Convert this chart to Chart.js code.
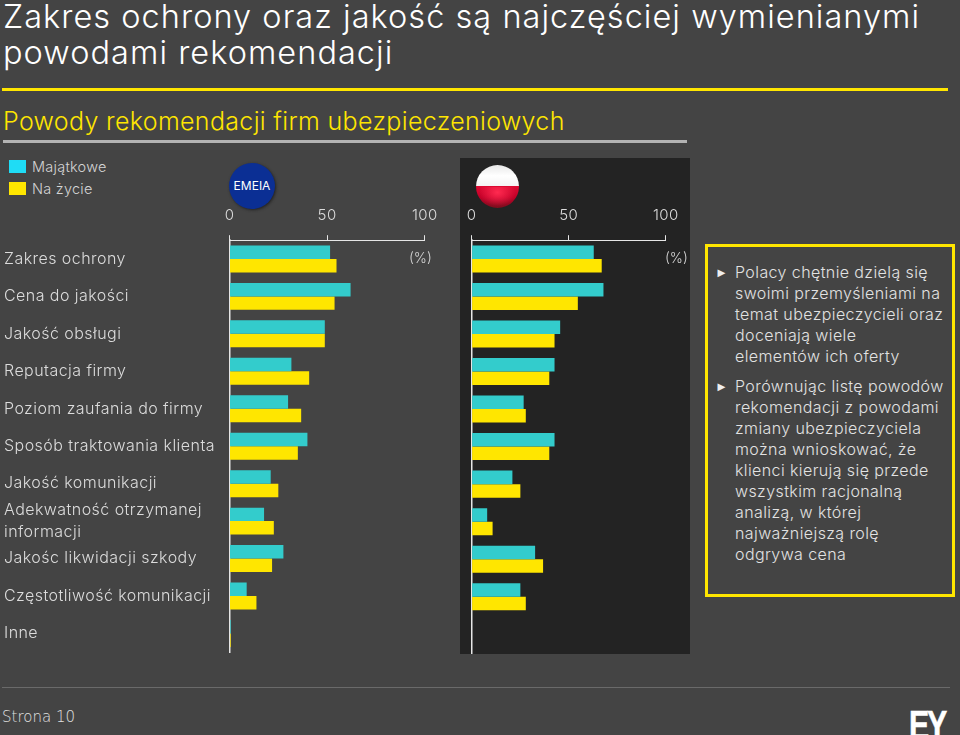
<!DOCTYPE html>
<html lang="pl">
<head>
<meta charset="utf-8">
<title>Powody rekomendacji</title>
<script src="https://cdn.jsdelivr.net/npm/chart.js@4"></script>
<style>
  html, body { margin: 0; padding: 0; }
  body { width: 960px; height: 735px; background: #444444; position: relative; overflow: hidden;
         font-family: Inter, sans-serif; font-weight: 300; color: #dcdcdc; }
  .abs { position: absolute; white-space: nowrap; }
  #title { left: 3px; top: -1px; font-size: 32.5px; line-height: 36px; color: #fff; letter-spacing: 1.03px; }
  #rule1 { left: 2px; top: 88px; width: 946px; height: 3px; background: #ffe600; }
  #subtitle { left: 3px; top: 105px; font-size: 25px; line-height: 32px; color: #ffe600; letter-spacing: 0.33px; }
  #rule2 { left: 3px; top: 140px; width: 684px; height: 3px; background: #b4b4b4; }
  #panel { left: 460px; top: 158px; width: 230px; height: 496px; background: #232323; }
  canvas { position: absolute; }
  .swatch { position: absolute; left: 9px; width: 17px; height: 13px; }
  .legend { font-size: 14.5px; line-height: 20px; left: 32px; letter-spacing: 0.25px; color: #d4d4d4; }
  #emeia { left: 229px; top: 163px; width: 46px; height: 46px; border-radius: 50%; background: #0b2f94;
           color: #fff; font-size: 12px; font-weight: 400; line-height: 46px; text-align: center; box-shadow: 1px 1px 3px #222; }
  #flag { left: 476px; top: 165px; width: 43px; height: 43px; border-radius: 50%;
          background: radial-gradient(ellipse at 50% 25%, #ff2a50 0, rgba(255,42,80,0) 60%) bottom / 100% 50% no-repeat,
                      linear-gradient(#e8e8e8 0, #fff 25%, #f4f4f4 49%, #dc0a32 50%, #c20028 75%, #7a0f1e 100%); }
  .pct { font-size: 14px; line-height: 18px; color: #d4d4d4; }
  #note { left: 705px; top: 244px; width: 244px; height: 347px; border: 3px solid #ffe600; white-space: nowrap; }
  #note ul { list-style: none; margin: 0; padding: 0; position: absolute; left: 7px; top: 15px; width: 228px; }
  #note li { position: relative; padding-left: 20px; font-size: 16px; line-height: 21px; letter-spacing: 0.4px; margin-bottom: 9px; color: #e2e2e2; }
  #note li::before { content: "►"; font-family: "DejaVu Sans", sans-serif; position: absolute; left: 0; top: 0; font-size: 13px; color: #eee; }
  #rule3 { left: 2px; top: 687px; width: 948px; height: 1px; background: #6a6a6a; }
  #page { left: 2px; top: 707px; font-family: "DejaVu Sans", sans-serif; font-size: 15px; line-height: 20px; color: #e0e0e0; }
  #logo { left: 909px; top: 702px; font-family: "Liberation Sans", sans-serif; font-weight: 700; font-size: 41px; line-height: 46px;
          color: #fff; letter-spacing: -3px; -webkit-text-stroke: 0.6px #fff; transform: scaleX(0.74); transform-origin: left top; }
</style>
</head>
<body>
<div class="abs" id="title">Zakres ochrony oraz jakość są najczęściej wymienianymi<br>powodami rekomendacji</div>
<div class="abs" id="rule1"></div>
<div class="abs" id="subtitle">Powody rekomendacji firm ubezpieczeniowych</div>
<div class="abs" id="rule2"></div>
<div class="abs" id="panel"></div>

<div class="swatch" style="top:160px;background:#1fdcf5"></div>
<div class="swatch" style="top:182px;background:#ffe600"></div>
<div class="abs legend" id="leg0" style="top:157px"></div>
<div class="abs legend" id="leg1" style="top:179px"></div>

<div class="abs" id="emeia">EMEIA</div>
<div class="abs" id="flag"></div>

<canvas id="chartEmeia"></canvas>
<canvas id="chartPolska"></canvas>

<div class="abs pct" style="left:409px;top:249px">(%)</div>
<div class="abs pct" style="left:665px;top:249px">(%)</div>

<div class="abs" id="note">
  <ul>
    <li>Polacy chętnie dzielą się<br>swoimi przemyśleniami na<br>temat ubezpieczycieli oraz<br>doceniają wiele<br>elementów ich oferty</li>
    <li>Porównując listę powodów<br>rekomendacji z powodami<br>zmiany ubezpieczyciela<br>można wnioskować, że<br>klienci kierują się przede<br>wszystkim racjonalną<br>analizą, w której<br>najważniejszą rolę<br>odgrywa cena</li>
  </ul>
</div>

<div class="abs" id="rule3"></div>
<div class="abs" id="page">Strona 10</div>
<div class="abs" id="logo">EY</div>

<script>
const categories = [
  'Zakres ochrony', 'Cena do jakości', 'Jakość obsługi', 'Reputacja firmy',
  'Poziom zaufania do firmy', 'Sposób traktowania klienta', 'Jakość komunikacji',
  ['Adekwatność otrzymanej', 'informacji'], 'Jakośc likwidacji szkody',
  'Częstotliwość komunikacji', 'Inne'
];
const seriesNames = ['Majątkowe', 'Na życie'];
const xTicks = [0, 50, 100];

const emeiaMajatkowe = [51.5, 62, 48.8, 31.7, 30, 39.9, 21.1, 17.7, 27.6, 8.8, 0.6];
const emeiaNaZycie = [54.8, 53.8, 48.8, 40.8, 36.7, 35, 25, 22.7, 21.8, 13.8, 0.6];
const polskaMajatkowe = [62.9, 67.9, 45.6, 42.7, 26.8, 42.7, 21, 8, 32.7, 25.1, 0];
const polskaNaZycie = [67, 54.7, 42.7, 40, 27.9, 40, 25.1, 10.8, 36.8, 27.9, 0];

document.getElementById('leg0').textContent = seriesNames[0];
document.getElementById('leg1').textContent = seriesNames[1];

const TEAL = '#33cccc';
const YELLOW = '#ffe600';
const AXIS = '#e6e6e6';
const FONT = 'Inter, sans-serif';
const TOP = 195;

// odstep miedzy literami, opcje Chart.js tego nie maja
const spacing = {
  id: 'spacing',
  beforeDraw(chart) { chart.ctx.letterSpacing = '0.45px'; }
};

function makeChart(id, left, width, values1, values2, showLabels, padding) {
  const el = document.getElementById(id);
  el.width = width;
  el.height = 468;
  el.style.left = left + 'px';
  el.style.top = TOP + 'px';
  return new Chart(el.getContext('2d'), {
    type: 'bar',
    plugins: [spacing],
    data: {
      labels: categories,
      datasets: [
        { label: seriesNames[0], data: values1, backgroundColor: TEAL },
        { label: seriesNames[1], data: values2, backgroundColor: YELLOW }
      ]
    },
    options: {
      indexAxis: 'y',
      responsive: false,
      animation: false,
      layout: { padding: padding },
      datasets: { bar: { categoryPercentage: 0.72, barPercentage: 1 } },
      plugins: { legend: { display: false }, tooltip: { enabled: false } },
      scales: {
        x: {
          position: 'top',
          min: 0,
          max: 100,
          afterBuildTicks: function (axis) { axis.ticks = xTicks.map(v => ({ value: v })); },
          afterFit: function (axis) { axis.height = 240.2 - TOP; },
          grid: { drawOnChartArea: false, color: AXIS, tickLength: 5, tickWidth: 1 },
          border: { display: true, color: AXIS, width: 1 },
          ticks: { color: '#dcdcdc', font: { family: FONT, size: 15, weight: 300 }, padding: 11, maxRotation: 0 }
        },
        y: {
          afterFit: function (axis) { axis.width = showLabels ? 225.5 : 0; },
          grid: { display: false, drawTicks: false },
          border: { display: true, color: AXIS, width: 1.5 },
          ticks: {
            display: showLabels,
            crossAlign: 'far',
            padding: 0,
            labelOffset: 0,
            autoSkip: false,
            color: '#dcdcdc',
            font: { family: FONT, size: 16, weight: 300, lineHeight: 1.35 }
          }
        }
      }
    }
  });
}

makeChart('chartEmeia', 0, 448, emeiaMajatkowe, emeiaNaZycie, true, { left: 4, right: 21.5, top: 0, bottom: 10 });
makeChart('chartPolska', 456, 233, polskaMajatkowe, polskaNaZycie, false, { left: 3, right: 23, top: 0, bottom: 10 });
</script>
</body>
</html>
